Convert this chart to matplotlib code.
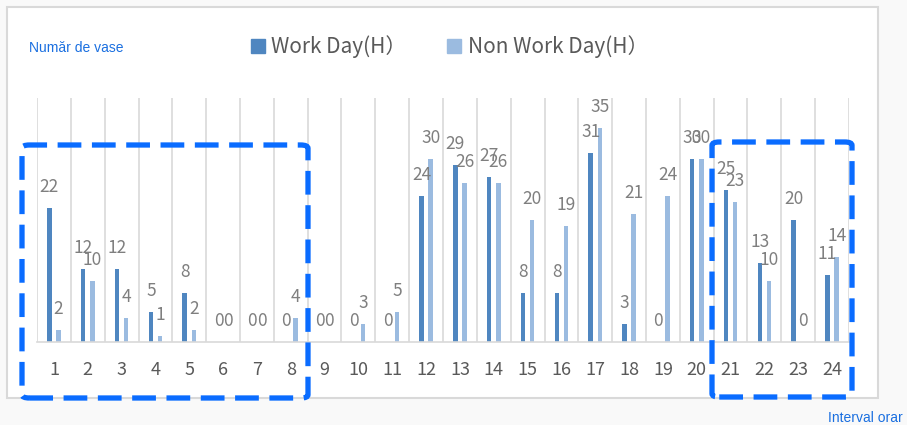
import matplotlib
matplotlib.use("Agg")
import matplotlib.pyplot as plt
from matplotlib.patches import Rectangle, FancyBboxPatch
from matplotlib.lines import Line2D
import numpy as np

plt.rcParams['font.family'] = ['Noto Sans CJK SC', 'DejaVu Sans']

hours = [str(h) for h in range(1, 25)]
work_day = [22, 12, 12, 5, 8, 0, 0, 0, 0, 0, 0, 24, 29, 27, 8, 8, 31, 3, 0, 30, 25, 13, 20, 11]
non_work_day = [2, 10, 4, 1, 2, 0, 0, 4, 0, 3, 5, 30, 26, 26, 20, 19, 35, 21, 24, 30, 23, 10, 0, 14]
series_names = ["Work Day(H）", "Non Work Day(H）"]
y_title = "Număr de vase"
x_title = "Interval orar"

W, H = 907, 425
fig = plt.figure(figsize=(W / 100, H / 100), dpi=100)
fig.patch.set_facecolor('#f9f9f9')

def fx(px):
    return px / W

def fy(py):
    return 1 - py / H

# chart area
fig.add_artist(Rectangle((fx(7), fy(398)), fx(878) - fx(7), fy(7) - fy(398),
                         transform=fig.transFigure, facecolor='white',
                         edgecolor='#d9d9d9', linewidth=1.5, zorder=0))

ax = fig.add_axes([fx(37), fy(342), fx(849) - fx(37), fy(98) - fy(342)])
ax.set_facecolor('none')

c_work = '#4f86c0'
c_non = '#9bbbe0'
x = np.arange(1, 25)
bw = 0.13
off = 0.135
b1 = ax.bar(x - off, work_day, width=bw, color=c_work, zorder=2)
b2 = ax.bar(x + off, non_work_day, width=bw, color=c_non, zorder=2)

for xs, vals in ((x - off, work_day), (x + off, non_work_day)):
    for xi, v in zip(xs, vals):
        ax.annotate(str(v), (xi, v), xytext=(0, 16), textcoords='offset pixels',
                    ha='center', va='baseline', fontsize=12.5, color='#7f7f7f',
                    zorder=3)

ax.set_xlim(0.5, 24.5)
ax.set_ylim(0, 40)
for b in np.arange(0.5, 25, 1):
    ax.axvline(b, color='#d9d9d9', linewidth=1.2, zorder=1)
for s in ('top', 'right', 'left'):
    ax.spines[s].set_visible(False)
ax.spines['bottom'].set_color('#d9d9d9')
ax.spines['bottom'].set_linewidth(1.2)
ax.set_yticks([])
ax.set_xticks(x)
ax.set_xticklabels(hours, fontsize=13, color='#595959')
ax.tick_params(axis='x', length=0, pad=14)

# titles
fig.text(fx(29), fy(48), y_title, color='#1a6fe0', fontsize=10, va='center', ha='left',
         family=['Liberation Sans', 'DejaVu Sans'])
fig.text(fx(828), fy(418), x_title, color='#1a6fe0', fontsize=10, va='center', ha='left',
         family=['Liberation Sans', 'DejaVu Sans'])

# legend
handles = [Line2D([], [], marker='s', linestyle='none', markersize=10, color=c_work),
           Line2D([], [], marker='s', linestyle='none', markersize=10, color=c_non)]
leg = fig.legend(handles, series_names, loc='center left', bbox_to_anchor=(fx(231), fy(47)),
                 ncol=2, frameon=False, fontsize=15, labelcolor='#595959',
                 handlelength=0.75, handletextpad=0.28, columnspacing=1.9)

# dashed highlight boxes
for (x0, y0, x1, y1) in ((22, 145, 308, 398), (712, 142, 852, 397)):
    fig.add_artist(FancyBboxPatch((fx(x0), fy(y1)), fx(x1) - fx(x0), fy(y0) - fy(y1),
                                  boxstyle='round,pad=0,rounding_size=0.008',
                                  transform=fig.transFigure, fill=False,
                                  edgecolor='#0a6cff', linewidth=3.8,
                                  linestyle=(0, (4.5, 2)), zorder=5))

fig.savefig('out.png', dpi=100, facecolor=fig.get_facecolor())
